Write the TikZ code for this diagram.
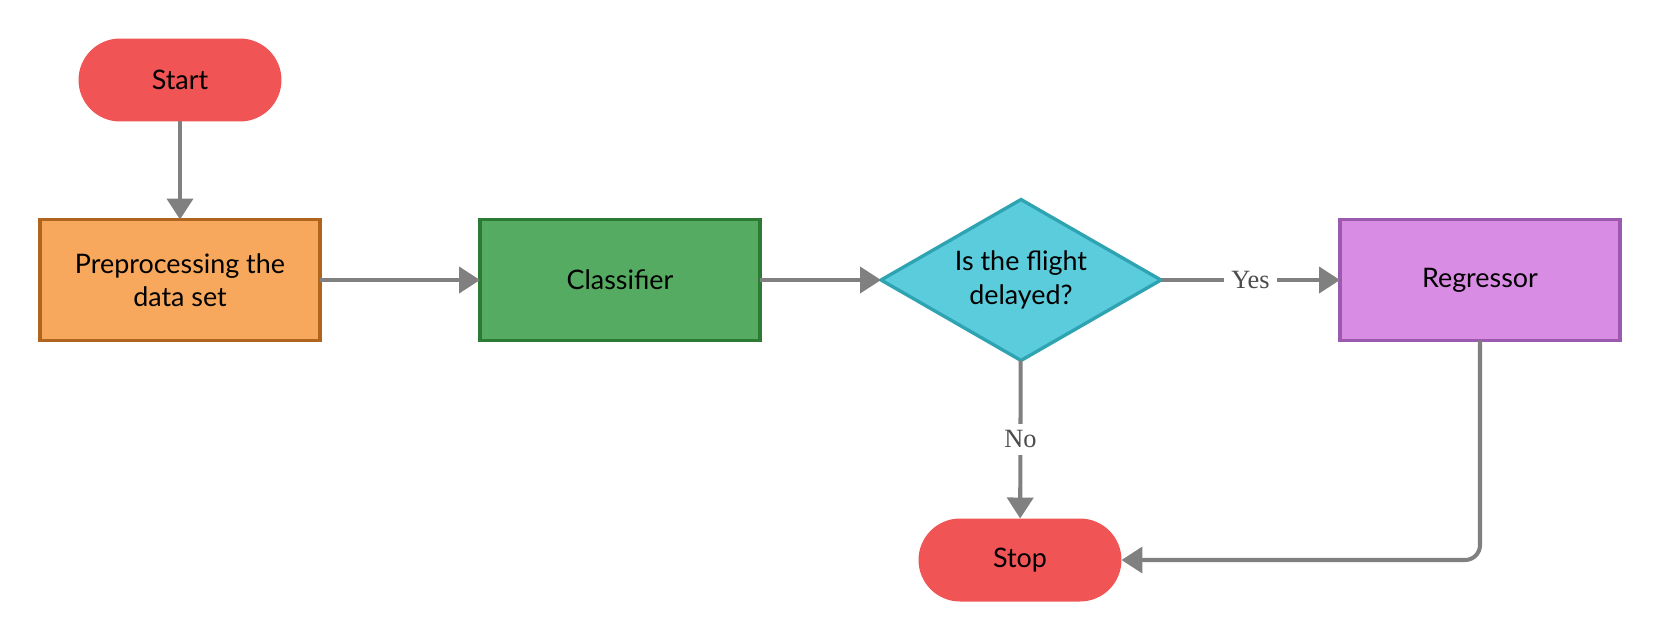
\documentclass[tikz,border=0pt]{standalone}
\usepackage{fontspec}
\setmainfont{Lato}
\newfontfamily\labelfont{Liberation Serif}
\usetikzlibrary{shapes.geometric, arrows.meta}

\definecolor{termred}{HTML}{F05454}
\definecolor{prepfill}{HTML}{F7A85C}
\definecolor{prepdraw}{HTML}{B0651F}
\definecolor{clsfill}{HTML}{55AB62}
\definecolor{clsdraw}{HTML}{2D7A35}
\definecolor{decfill}{HTML}{5BCCDB}
\definecolor{decdraw}{HTML}{2EA3B1}
\definecolor{regfill}{HTML}{D98CE3}
\definecolor{regdraw}{HTML}{9B59B0}
\definecolor{flowgray}{HTML}{808080}

\begin{document}
\begin{tikzpicture}[x=0.02cm, y=-0.02cm,
    every node/.style={font=\fontsize{15.3}{19}\selectfont, outer sep=0pt},
    term/.style={fill=termred, rounded corners=0.83cm,
      minimum width=4.06cm, minimum height=1.66cm},
    process/.style={draw, line width=1.9pt, minimum width=5.6cm,
      minimum height=2.42cm, align=center},
    decision/.style={diamond, draw=decdraw, fill=decfill, line width=1.9pt,
      minimum width=5.6cm, minimum height=3.22cm, aspect=1.74,
      inner sep=0pt, align=center},
    flow/.style={draw=flowgray, line width=2.3pt,
      -{Triangle[length=0.42cm, width=0.52cm]}},
    lbl/.style={fill=white, text=black!70, inner sep=4pt,
      font=\labelfont\fontsize{15}{18}\selectfont}]

  \useasboundingbox (0,0) rectangle (1660,640);

  % nodes, top row at y = 280
  \node[term] (start) at (180, 80) {Start};
  \node[process, draw=prepdraw, fill=prepfill] (prep) at (180, 280)
    {Preprocessing the\\data set};
  \node[process, draw=clsdraw, fill=clsfill] (cls) at (620, 280) {Classifier};
  \node[decision] (dec) at (1021, 280) {Is the flight\\delayed?};
  \node[process, draw=regdraw, fill=regfill] (reg) at (1480, 280) {Regressor};
  \node[term] (stop) at (1020, 560) {Stop};

  % connectors
  \draw[flow] (start) -- (prep);
  \draw[flow] (prep) -- (cls);
  \draw[flow] (cls) -- (dec);
  \draw[flow] (dec) -- node[lbl] {Yes} (reg);
  \draw[flow] (dec) -- node[lbl] {No} (stop);
  \draw[flow, rounded corners=0.3cm] (reg.south) |- (stop.east);
\end{tikzpicture}
\end{document}
